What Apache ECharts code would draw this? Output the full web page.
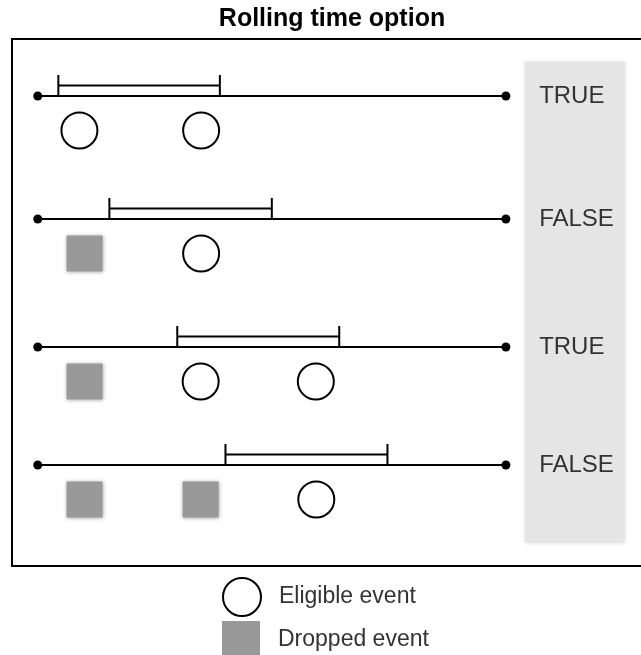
<!DOCTYPE html>
<html><head><meta charset="utf-8">
<script src="https://cdn.jsdelivr.net/npm/echarts@6/dist/echarts.min.js"></script>
<style>html,body{margin:0;padding:0;background:#fff}#c{width:641px;height:655px}</style>
</head><body><div id="c"></div>
<script>
// ---- data ----
const titleText = 'Rolling time option';
const laneY = [57, 180, 308, 426];               // vertical position of each timeline (axis units)
const timelineStart = [0, 0, 0, 0];
const timelineEnd = [100, 100, 100, 100];
const windowStart = [4.4, 15.3, 29.8, 40.1];
const windowEnd = [38.9, 50.0, 64.4, 74.7];
const eligibleX = [[8.9, 34.9], [34.9], [34.8, 59.4], [59.5]];
const droppedX = [[], [10.0], [10.0], [10.0, 34.8]];
const results = ['TRUE', 'FALSE', 'TRUE', 'FALSE'];
const legendNames = ['Eligible event', 'Dropped event'];

// ---- layout constants ----
const eventOffset = 34.5;
const labelX = 107.1;
const panelBox = [104.1, 125.4, 22.7, 503.7];
const FONT = '"Liberation Sans", Arial, sans-serif';

const chart = echarts.init(document.getElementById('c'), null, {renderer: 'canvas'});

const timelineData = laneY.map((y, i) => [timelineStart[i], timelineEnd[i], y]);
const windowData = laneY.map((y, i) => [windowStart[i], windowEnd[i], y]);
const eligibleData = eligibleX.flatMap((xs, i) => xs.map(x => [x, laneY[i] + eventOffset]));
const droppedData = droppedX.flatMap((xs, i) => xs.map(x => [x, laneY[i] + eventOffset]));
const resultData = results.map((r, i) => [labelX, laneY[i], r]);

const legendBase = {
  orient: 'vertical', left: 222, padding: 0,
  itemWidth: 38, itemHeight: 38,
  textStyle: {fontFamily: FONT, fontSize: 23, color: '#333', padding: [0, 0, 0, 13]}
};

chart.setOption({
  animation: false,
  backgroundColor: '#fff',
  title: {
    text: titleText, left: 332, top: 7, padding: 0, textAlign: 'center',
    textStyle: {fontFamily: FONT, fontSize: 25, fontWeight: 'bold', color: '#000'}
  },
  legend: [
    Object.assign({}, legendBase, {data: [legendNames[0]], top: 577}),
    Object.assign({}, legendBase, {data: [legendNames[1]], top: 621})
  ],
  grid: {left: 12, right: 0, top: 39, bottom: 89, show: false},
  xAxis: {type: 'value', min: -5.5, max: 128.86, show: false},
  yAxis: {type: 'value', min: 0, max: 527, inverse: true, show: false},
  series: [
    {
      name: 'frame', type: 'custom', z: 0, silent: true,
      data: [[-5.5, 0]],
      encode: {x: 0, y: 1},
      renderItem(params, api) {
        const a = api.coord([-5.5, 0]);
        const b = api.coord([128.86, 527]);
        return {
          type: 'rect',
          shape: {x: a[0], y: a[1], width: b[0] - a[0] + 20, height: b[1] - a[1]},
          style: {fill: 'none', stroke: '#000', lineWidth: 2}
        };
      }
    },
    {
      name: 'panel', type: 'custom', z: 1, silent: true,
      data: [panelBox],
      encode: {x: [0, 1], y: [2, 3]},
      renderItem(params, api) {
        const a = api.coord([api.value(0), api.value(2)]);
        const b = api.coord([api.value(1), api.value(3)]);
        return {
          type: 'rect',
          shape: {x: a[0], y: a[1], width: b[0] - a[0], height: b[1] - a[1]},
          style: {fill: '#e5e5e5', shadowBlur: 4, shadowColor: 'rgba(220,220,220,0.9)'}
        };
      }
    },
    {
      name: 'timeline', type: 'custom', z: 2, silent: true,
      data: timelineData,
      encode: {x: [0, 1], y: 2},
      renderItem(params, api) {
        const y = api.value(2);
        const p0 = api.coord([api.value(0), y]);
        const p1 = api.coord([api.value(1), y]);
        return {type: 'group', children: [
          {type: 'line', shape: {x1: p0[0], y1: p0[1], x2: p1[0], y2: p1[1]}, style: {stroke: '#000', lineWidth: 2}},
          {type: 'circle', shape: {cx: p0[0], cy: p0[1], r: 4.5}, style: {fill: '#000'}},
          {type: 'circle', shape: {cx: p1[0], cy: p1[1], r: 4.5}, style: {fill: '#000'}}
        ]};
      }
    },
    {
      name: 'window', type: 'custom', z: 3, silent: true,
      data: windowData,
      encode: {x: [0, 1], y: 2},
      renderItem(params, api) {
        const y = api.value(2);
        const p0 = api.coord([api.value(0), y]);
        const p1 = api.coord([api.value(1), y]);
        const st = {stroke: '#000', lineWidth: 2};
        return {type: 'group', children: [
          {type: 'line', shape: {x1: p0[0], y1: p0[1] - 21, x2: p0[0], y2: p0[1]}, style: st},
          {type: 'line', shape: {x1: p1[0], y1: p1[1] - 21, x2: p1[0], y2: p1[1]}, style: st},
          {type: 'line', shape: {x1: p0[0], y1: p0[1] - 10.5, x2: p1[0], y2: p1[1] - 10.5}, style: st}
        ]};
      }
    },
    {
      name: 'Eligible event', type: 'scatter', z: 4, silent: true,
      symbol: 'circle', symbolSize: 36,
      itemStyle: {color: '#fff', borderColor: '#000', borderWidth: 2, opacity: 1},
      data: eligibleData
    },
    {
      name: 'Dropped event', type: 'scatter', z: 4, silent: true,
      symbol: 'rect', symbolSize: 36,
      itemStyle: {color: '#999', shadowBlur: 4, shadowColor: 'rgba(153,153,153,0.9)', opacity: 1},
      data: droppedData
    },
    {
      name: 'result', type: 'custom', z: 5, silent: true,
      data: resultData,
      encode: {x: 0, y: 1},
      renderItem(params, api) {
        const p = api.coord([api.value(0), api.value(1)]);
        return {
          type: 'text',
          style: {
            x: p[0], y: p[1], text: results[params.dataIndex],
            font: '24px ' + FONT, fill: '#333', align: 'left', verticalAlign: 'middle'
          }
        };
      }
    }
  ]
});
</script>
</body></html>
